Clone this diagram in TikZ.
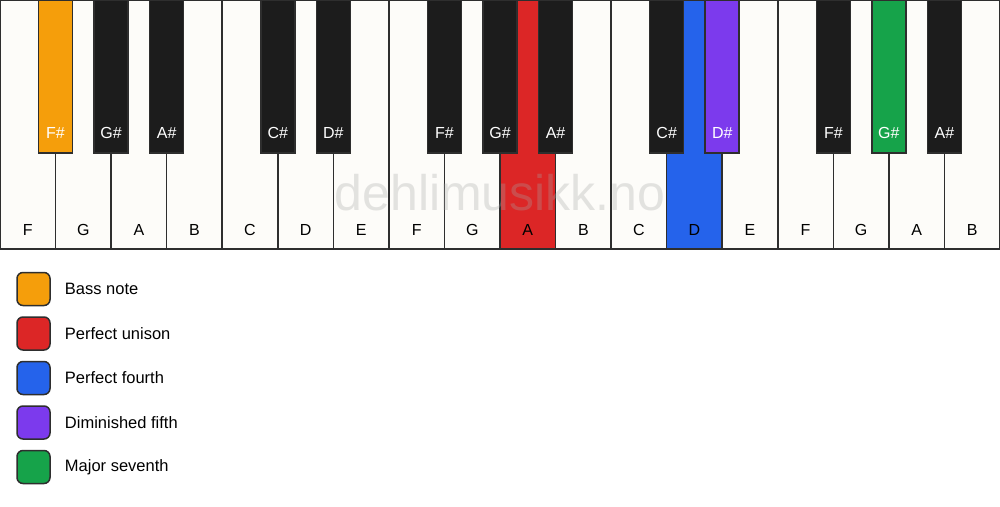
\documentclass[tikz,border=0pt]{standalone}
\usepackage{fontspec}
\setmainfont{Liberation Sans}
\usetikzlibrary{positioning}
\definecolor{keywhite}{HTML}{FDFCF9}
\definecolor{keyblack}{HTML}{1C1C1C}
\definecolor{keyline}{HTML}{2E2E2E}
\definecolor{bass}{HTML}{F59E0B}
\definecolor{unison}{HTML}{DC2626}
\definecolor{fourth}{HTML}{2563EB}
\definecolor{dimfifth}{HTML}{7C3AED}
\definecolor{seventh}{HTML}{16A34A}

\begin{document}
\begin{tikzpicture}[x=1pt, y=-1pt,
  whitekey/.style={draw=keyline, line width=1.5pt, fill=keywhite},
  blackkey/.style={draw=keyline, line width=1.5pt, fill=keyblack},
  keylabel/.style={font=\fontsize{16}{18}\selectfont, inner sep=0pt},
  legendbox/.style={draw=keyline, line width=1.5pt, rounded corners=6pt, minimum size=33pt, inner sep=0pt},
  legendtext/.style={font=\fontsize{16.5}{19}\selectfont, inner sep=3pt, right=11pt of #1}]
\useasboundingbox (0,0) rectangle (1000,506);
\fill[white] (0,0) rectangle (1000,506);

\foreach \n [count=\i from 0] in {F,G,A,B,C,D,E,F,G,A,B,C,D,E,F,G,A,B}
  \draw[whitekey] (\i*55.5556,0) rectangle ({(\i+1)*55.5556},249);
\draw[whitekey, fill=unison] (9*55.5556,0) rectangle (10*55.5556,249);
\draw[whitekey, fill=fourth] (12*55.5556,0) rectangle (13*55.5556,249);
\foreach \n [count=\i from 0] in {F,G,A,B,C,D,E,F,G,A,B,C,D,E,F,G,A,B}
  \node[keylabel] (w\i) at ({(\i+0.5)*55.5556},230) {\n};

\node[font=\fontsize{50}{54}\selectfont, text=gray!70, opacity=0.3] (mark) at (500,193) {dehlimusikk.no};

\foreach \b/\n in {1/F,2/G,3/A,5/C,6/D,8/F,9/G,10/A,12/C,13/D,15/F,16/G,17/A}
  \draw[blackkey] (\b*55.5556-17,0) rectangle (\b*55.5556+17,153);
\draw[blackkey, fill=bass] (1*55.5556-17,0) rectangle (1*55.5556+17,153);
\draw[blackkey, fill=dimfifth] (13*55.5556-17,0) rectangle (13*55.5556+17,153);
\draw[blackkey, fill=seventh] (16*55.5556-17,0) rectangle (16*55.5556+17,153);
\foreach \b/\n in {1/F,2/G,3/A,5/C,6/D,8/F,9/G,10/A,12/C,13/D,15/F,16/G,17/A}
  \node[keylabel, text=white] (b\b) at (\b*55.5556,133) {\n\#};

\node[legendbox, fill=bass] (bassbox) at (33.5,289) {};
\node[legendtext=bassbox] (basstext) {Bass note};
\node[legendbox, fill=unison] (unisonbox) at (33.5,333.5) {};
\node[legendtext=unisonbox] (unisontext) {Perfect unison};
\node[legendbox, fill=fourth] (fourthbox) at (33.5,378) {};
\node[legendtext=fourthbox] (fourthtext) {Perfect fourth};
\node[legendbox, fill=dimfifth] (fifthbox) at (33.5,422.5) {};
\node[legendtext=fifthbox] (fifthtext) {Diminished fifth};
\node[legendbox, fill=seventh] (seventhbox) at (33.5,467) {};
\node[legendtext=seventhbox] (seventhtext) {Major seventh};
\end{tikzpicture}
\end{document}
